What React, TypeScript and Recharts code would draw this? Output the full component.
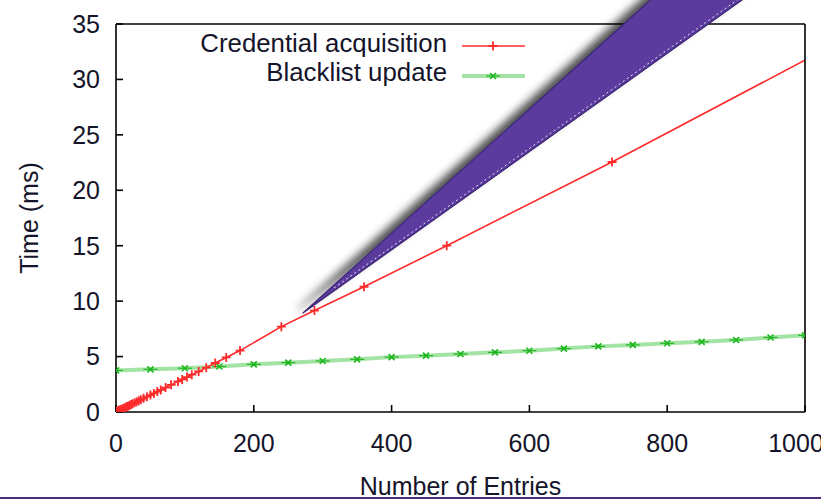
import { LineChart, Line, XAxis, YAxis, Legend } from 'recharts';

// Credential acquisition (red, +)
const credX = [0, 2, 4, 6, 8, 10, 12, 14, 16, 18, 20, 22, 24, 27, 30, 33, 36, 40, 45, 50, 55, 60, 65, 72, 80, 90, 96, 103, 110, 120, 131, 144, 160, 180, 240, 288, 360, 480, 720, 1440];
const credY = [0.05, 0.1, 0.15, 0.2, 0.25, 0.3, 0.37, 0.43, 0.5, 0.55, 0.62, 0.68, 0.74, 0.83, 0.92, 1.02, 1.1, 1.23, 1.38, 1.53, 1.68, 1.84, 1.99, 2.2, 2.45, 2.76, 2.94, 3.15, 3.37, 3.66, 4.0, 4.42, 4.92, 5.54, 7.7, 9.15, 11.3, 15.0, 22.55, 46.2];

// Blacklist update (green, x)
const blackX = [0, 50, 100, 150, 200, 250, 300, 350, 400, 450, 500, 550, 600, 650, 700, 750, 800, 850, 900, 950, 1000];
const blackY = [3.75, 3.85, 3.95, 4.1, 4.3, 4.45, 4.6, 4.75, 4.95, 5.08, 5.23, 5.38, 5.53, 5.72, 5.92, 6.05, 6.2, 6.33, 6.5, 6.72, 6.92];

const xTicks = [0, 200, 400, 600, 800, 1000];
const yTicks = [0, 5, 10, 15, 20, 25, 30, 35];
const seriesNames = ['Credential acquisition', 'Blacklist update'];

const credential = credX.map((x, i) => ({ x, y: credY[i] }));
const blacklist = blackX.map((x, i) => ({ x, y: blackY[i] }));

const FONT = '"Liberation Sans", Arial, sans-serif';
const TEXT = '#14142a';
const RED = '#ff2a2a';
const GREEN_LIGHT = '#a3e3a3';
const GREEN = '#1fb51f';
const border = { stroke: '#000', strokeWidth: 1.6 };

const plusMark = (cx: number, cy: number, key?: string) => (
  <path key={key} d={`M${cx - 4.5},${cy}h9M${cx},${cy - 4.5}v9`} stroke={RED} strokeWidth={1.8} fill="none" />
);

const crossMark = (cx: number, cy: number, key?: string) => (
  <g key={key}>
    <path d={`M${cx - 7},${cy}h14`} stroke={GREEN} strokeWidth={1.2} />
    <path d={`M${cx - 3},${cy - 3}l6,6M${cx - 3},${cy + 3}l6,-6`} stroke={GREEN} strokeWidth={1.6} fill="none" />
  </g>
);

const PlusDot = (props: any) => {
  const { cx, cy, index } = props;
  if (cx == null || cy == null) return <g key={`p${index}`} />;
  return plusMark(cx, cy, `p${index}`);
};

const CrossDot = (props: any) => {
  const { cx, cy, index } = props;
  if (cx == null || cy == null) return <g key={`c${index}`} />;
  return crossMark(cx, cy, `c${index}`);
};

const KeyBox = () => (
  <svg width={360} height={70} style={{ display: 'block' }}>
    <g fontFamily={FONT} fontSize={25.8} fill={TEXT}>
      <text x={267} y={27} textAnchor="end">{seriesNames[0]}</text>
      <text x={267} y={56} textAnchor="end">{seriesNames[1]}</text>
    </g>
    <line x1={282} x2={345} y1={21} y2={21} stroke={RED} strokeWidth={1.6} />
    {plusMark(313, 21)}
    <line x1={282} x2={345} y1={51} y2={51} stroke={GREEN_LIGHT} strokeWidth={4} />
    {crossMark(313, 51)}
  </svg>
);

const YTitle = (props: any) => {
  const vb = props.viewBox || { x: 0, y: 0, height: 0 };
  const cx = 29;
  const cy = vb.y + vb.height / 2;
  return (
    <text
      x={cx}
      y={cy}
      transform={`rotate(-90 ${cx} ${cy})`}
      textAnchor="middle"
      dominantBaseline="central"
      fontFamily={FONT}
      fontSize={25}
      fill={TEXT}
    >
      Time (ms)
    </text>
  );
};

export default function App() {
  return (
    <div style={{ position: 'fixed', top: 0, left: 0, width: 821, height: 499, background: '#fff', overflow: 'hidden' }}>
      <LineChart width={821} height={499} margin={{ top: 23, right: 15, bottom: 0, left: 0 }}>
        <XAxis
          type="number"
          dataKey="x"
          domain={[0, 1000]}
          ticks={xTicks}
          allowDataOverflow
          height={87}
          tickSize={-7}
          tickMargin={29}
          axisLine={border}
          tickLine={border}
          tick={{ fill: TEXT, fontSize: 25, fontFamily: FONT }}
          label={{ value: 'Number of Entries', position: 'insideBottom', offset: 4, fill: TEXT, fontSize: 25, fontFamily: FONT }}
        />
        <XAxis
          xAxisId="top"
          orientation="top"
          type="number"
          domain={[0, 1000]}
          ticks={xTicks}
          allowDataOverflow
          height={1}
          tickSize={-7}
          tick={false}
          axisLine={border}
          tickLine={border}
        />
        <YAxis
          type="number"
          domain={[0, 35]}
          ticks={yTicks}
          allowDataOverflow
          width={116}
          tickSize={-7}
          tickMargin={23}
          axisLine={border}
          tickLine={border}
          tick={{ fill: TEXT, fontSize: 25, fontFamily: FONT }}
          label={<YTitle />}
        />
        <YAxis
          yAxisId="right"
          orientation="right"
          type="number"
          domain={[0, 35]}
          ticks={yTicks}
          allowDataOverflow
          width={1}
          tickSize={-7}
          tick={false}
          axisLine={border}
          tickLine={border}
        />
        <Legend
          layout="horizontal"
          verticalAlign="middle"
          align="center"
          wrapperStyle={{ position: 'absolute', top: 25, left: 180, width: 360, height: 70 }}
          content={() => <KeyBox />}
        />
        <Line
          data={blacklist}
          dataKey="y"
          name={seriesNames[1]}
          stroke={GREEN_LIGHT}
          strokeWidth={4}
          dot={CrossDot}
          activeDot={false}
          isAnimationActive={false}
        />
        <Line
          data={credential}
          dataKey="y"
          name={seriesNames[0]}
          stroke={RED}
          strokeWidth={1.6}
          dot={PlusDot}
          activeDot={false}
          isAnimationActive={false}
        />
      </LineChart>
      {/* callout wedge pasted over the figure, and the slide rule at the bottom */}
      <svg width={821} height={499} style={{ position: 'absolute', top: 0, left: 0, pointerEvents: 'none' }}>
        <defs>
          <filter id="wedgeShadow" x="-30%" y="-30%" width="160%" height="160%">
            <feDropShadow dx={-5} dy={-4} stdDeviation={4.5} floodColor="#000" floodOpacity={0.7} />
          </filter>
        </defs>
        <polygon
          points="303,313 656,-5 749,-5"
          fill="#5c3b9e"
          stroke="#3b2774"
          strokeWidth={1.2}
          strokeLinejoin="round"
          filter="url(#wedgeShadow)"
        />
        <line x1={334} y1={288} x2={740} y2={-2} stroke="#ece6f6" strokeWidth={1} strokeDasharray="2 3" />
        <line x1={0} y1={498} x2={821} y2={498} stroke="#4d2a7c" strokeWidth={2} />
      </svg>
    </div>
  );
}
